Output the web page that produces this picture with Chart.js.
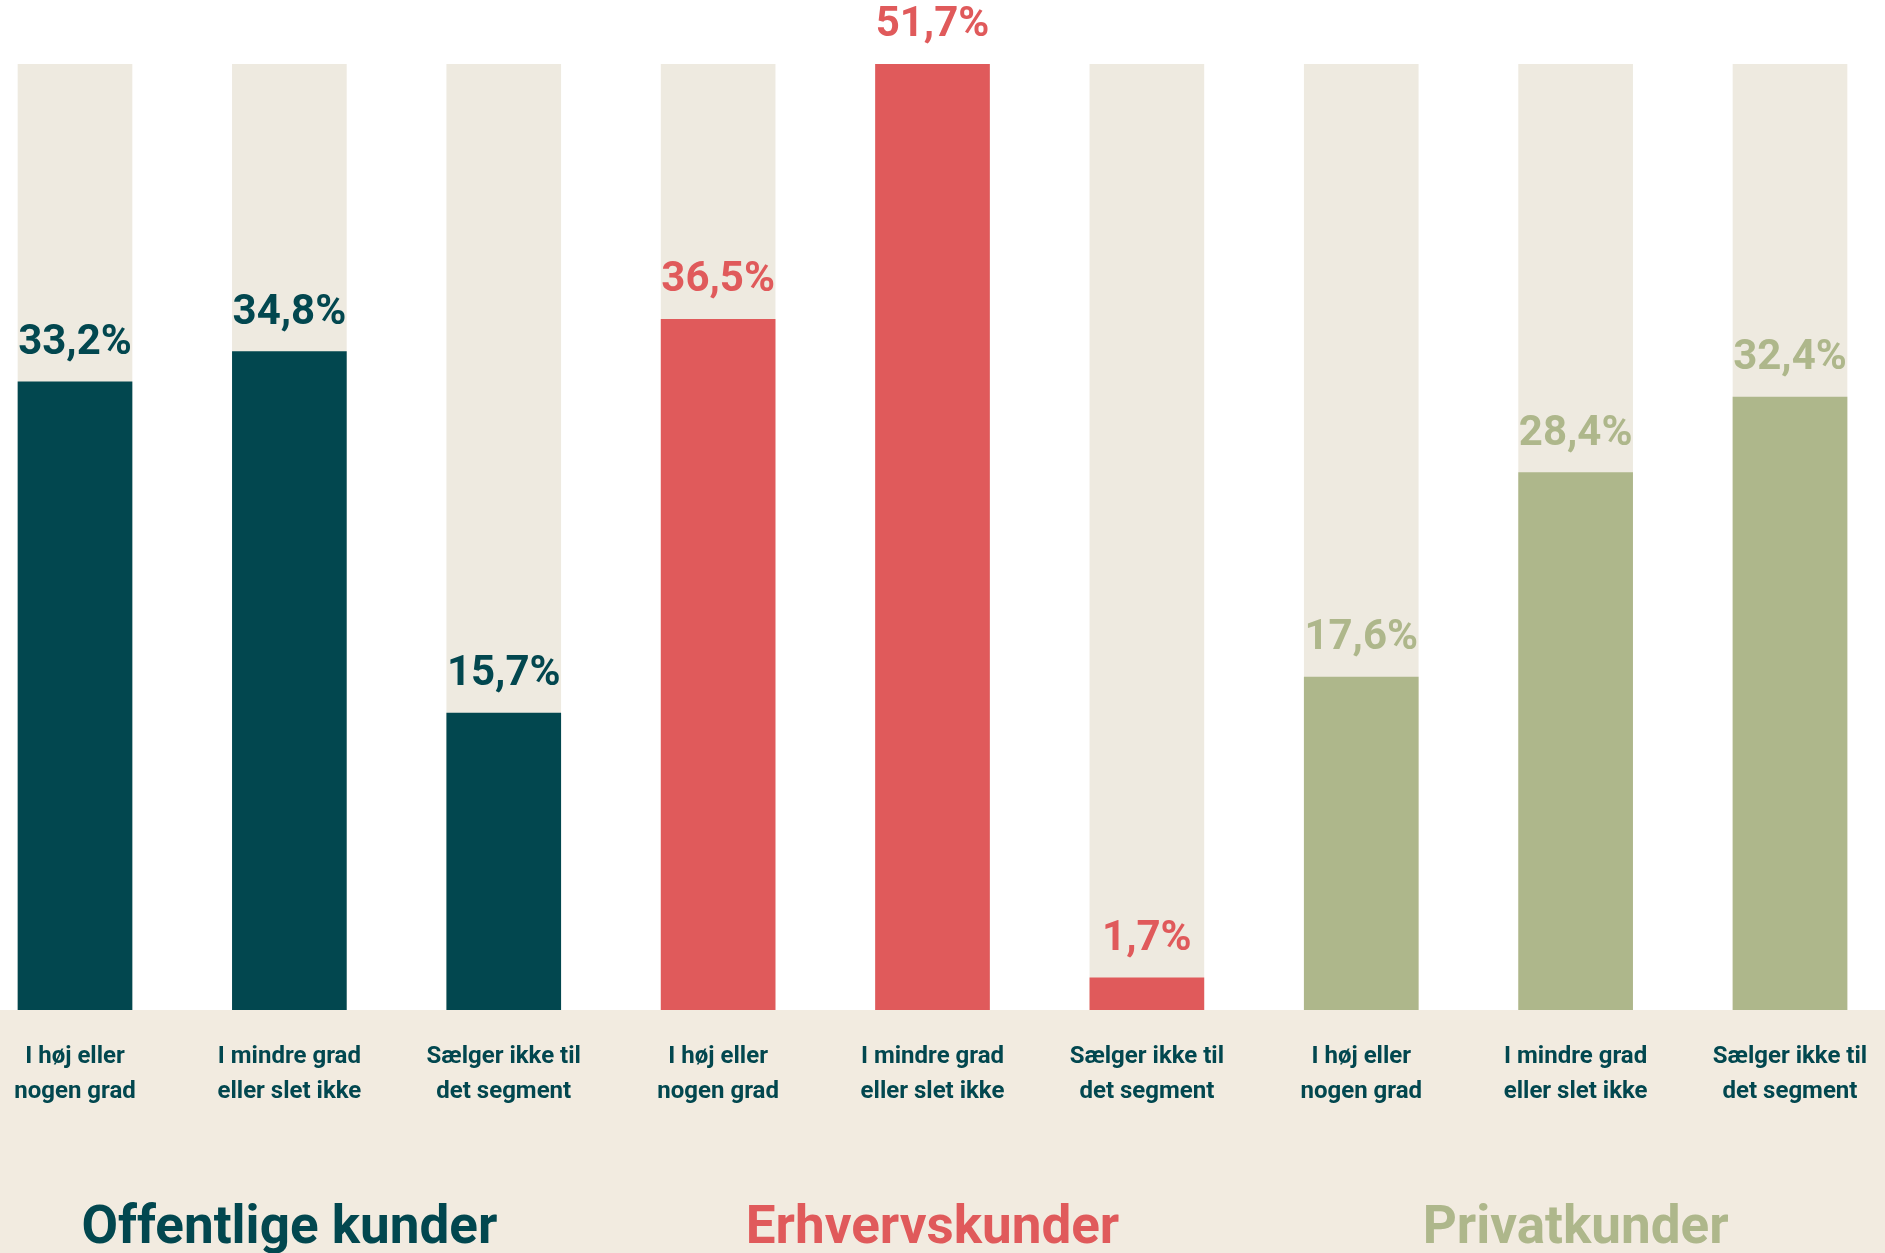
<!DOCTYPE html>
<html><head><meta charset="utf-8">
<script src="https://cdn.jsdelivr.net/npm/chart.js@4.4.1/dist/chart.umd.min.js"></script>
<style>html,body{margin:0;padding:0;background:#fff;overflow:hidden}#wrap{width:1885px;height:1253px;position:relative}</style>
</head><body><div id="wrap"><canvas id="c" width="1885" height="1253"></canvas></div>
<script>
const categories = [
  ["I høj eller","nogen grad"],["I mindre grad","eller slet ikke"],["Sælger ikke til","det segment"],
  ["I høj eller","nogen grad"],["I mindre grad","eller slet ikke"],["Sælger ikke til","det segment"],
  ["I høj eller","nogen grad"],["I mindre grad","eller slet ikke"],["Sælger ikke til","det segment"]
];
const values = [33.2, 34.8, 15.7, 36.5, 51.7, 1.7, 17.6, 28.4, 32.4];
const trackValues = [50, 50, 50, 50, 50, 50, 50, 50, 50];
const groupTitles = ["Offentlige kunder", "Erhvervskunder", "Privatkunder"];
const groupOfBar = [0, 0, 0, 1, 1, 1, 2, 2, 2];
const groupCenterBar = [1, 4, 7];
const groupColors = ["#02474F", "#E05A5B", "#AEB78B"];
const trackColor = "#EEEAE0";
const bandColor = "#F2EBE0";
const FONT = "Roboto, 'Liberation Sans', sans-serif";

const fmt = v => v.toFixed(1).replace('.', ',') + '%';

const decor = {
  id: 'decor',
  beforeDraw(chart) {
    const {ctx, chartArea} = chart;
    ctx.save();
    ctx.fillStyle = '#ffffff';
    ctx.fillRect(0, 0, chart.width, chart.height);
    ctx.fillStyle = bandColor;
    ctx.fillRect(0, chartArea.bottom, chart.width, chart.height - chartArea.bottom);
    ctx.restore();
  },
  afterDatasetsDraw(chart) {
    const {ctx, chartArea} = chart;
    const meta = chart.getDatasetMeta(0);
    ctx.save();
    ctx.font = `700 42px ${FONT}`;
    ctx.textAlign = 'center';
    ctx.textBaseline = 'alphabetic';
    meta.data.forEach((bar, i) => {
      const top = Math.max(bar.y, chartArea.top);
      ctx.fillStyle = groupColors[groupOfBar[i]];
      ctx.fillText(fmt(values[i]), bar.x, top - 28);
    });
    ctx.restore();
  },
  afterDraw(chart) {
    const {ctx} = chart;
    const xs = chart.scales.x;
    ctx.save();
    ctx.font = `700 53px ${FONT}`;
    ctx.textAlign = 'center';
    ctx.textBaseline = 'alphabetic';
    groupTitles.forEach((t, g) => {
      ctx.fillStyle = groupColors[g];
      ctx.fillText(t, xs.getPixelForValue(groupCenterBar[g]), 1243);
    });
    ctx.restore();
  }
};

new Chart(document.getElementById('c'), {
  type: 'bar',
  data: {
    labels: categories,
    datasets: [
      {
        data: values,
        backgroundColor: values.map((v, i) => groupColors[groupOfBar[i]]),
        barThickness: 114,
        grouped: false,
        order: 0,
        clip: {left: false, right: false, top: 0, bottom: 0}
      },
      {
        data: trackValues,
        backgroundColor: trackColor,
        barThickness: 114,
        grouped: false,
        order: 1,
        clip: {left: false, right: false, top: 0, bottom: 0}
      }
    ]
  },
  plugins: [decor],
  options: {
    responsive: false,
    animation: false,
    devicePixelRatio: 1,
    layout: {padding: {top: 64, left: 75, right: 95, bottom: 0}},
    plugins: {legend: {display: false}, tooltip: {enabled: false}, title: {display: false}},
    scales: {
      x: {
        type: 'category',
        offset: false,
        grid: {display: false, drawTicks: false},
        border: {display: false},
        ticks: {
          color: groupColors[0],
          font: {family: FONT, weight: '700', size: 24, lineHeight: 1.45},
          padding: 30,
          maxRotation: 0,
          autoSkip: false
        },
        afterFit: s => { s.height = 243; s.paddingLeft = 0; s.paddingRight = 0; }
      },
      y: {display: false, min: 0, max: 50}
    }
  }
});
</script>
</body></html>
